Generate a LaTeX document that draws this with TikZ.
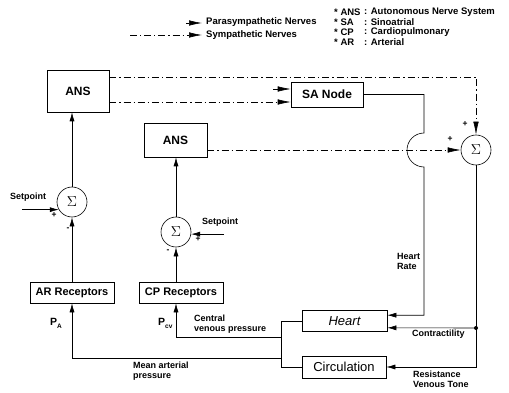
\documentclass[tikz,border=0pt]{standalone}
\usepackage{fontspec}
\setmainfont{Liberation Sans}
\usetikzlibrary{arrows.meta,calc}
\begin{document}
\begin{tikzpicture}[x=1pt,y=-1pt,
  box/.style={draw, line width=0.6pt, inner sep=0pt, font=\bfseries\fontsize{12}{13}\selectfont},
  sumc/.style={draw, circle, minimum size=30pt, inner sep=0pt, line width=0.6pt, font=\fontsize{14}{15}\selectfont},
  lbl/.style={font=\bfseries\fontsize{9}{10}\selectfont, align=left, inner sep=0pt},
  sgn/.style={font=\bfseries\fontsize{8.5}{9}\selectfont, inner sep=0pt},
  leg/.style={font=\bfseries\fontsize{9.5}{10}\selectfont, inner sep=0pt, anchor=west},
  ln/.style={line width=0.6pt},
  arr/.style={ln, -{Latex[length=9pt,width=5pt]}},
  sym/.style={line width=0.6pt, dash pattern=on 7pt off 3pt on 1.2pt off 3pt},
  symarr/.style={sym, -{Latex[length=13pt,width=5.5pt]}},
  para/.style={line width=0.6pt, -{Latex[length=13pt,width=5.5pt]}},
]
\useasboundingbox (0,0) rectangle (509,393);

% legend
\coordinate (lp0) at (186,23);
\coordinate (lp1) at (202,23);
\coordinate (ls0) at (130,35);
\coordinate (ls1) at (202,35);
\draw[para] (lp0) -- (lp1);
\draw[symarr] (ls0) -- (ls1);
\node[leg] (tpara) at (206,22) {Parasympathetic Nerves};
\node[leg] (tsym) at (206,35) {Sympathetic Nerves};
\node[leg] (a1) at (334,12) {* ANS};
\node[leg] (a2) at (334,22) {* SA};
\node[leg] (a3) at (334,32) {* CP};
\node[leg] (a4) at (334,42) {* AR};
\node[leg] (b1) at (364,12) {: Autonomous Nerve System};
\node[leg] (b2) at (364,22) {: Sinoatrial};
\node[leg] (b3) at (364,32) {: Cardiopulmonary};
\node[leg] (b4) at (364,42) {: Arterial};

% blocks
\node[box, minimum width=62pt, minimum height=42pt] (ANS1) at (78,91) {ANS};
\node[box, minimum width=63pt, minimum height=34pt] (ANS2) at (175.5,140) {ANS};
\node[box, minimum width=72pt, minimum height=25pt] (SA) at (327,94.5) {SA Node};
\node[box, minimum width=84pt, minimum height=21pt, font=\bfseries\fontsize{11}{12}\selectfont] (AR) at (72,292.5) {AR Receptors};
\node[box, minimum width=84pt, minimum height=21pt, font=\bfseries\fontsize{11}{12}\selectfont] (CP) at (181,292.5) {CP Receptors};
\node[box, minimum width=85pt, minimum height=21pt, font=\itshape\fontsize{13}{14}\selectfont] (Heart) at (344.5,321) {Heart};
\node[box, minimum width=84pt, minimum height=22pt, font=\fontsize{13}{14}\selectfont] (Circ) at (344,367) {Circulation};

\node[sumc] (S1) at (72,202) {$\Sigma$};
\node[sumc] (S2) at (176,232) {$\Sigma$};
\node[sumc] (S3) at (476,150) {$\Sigma$};

% helper coordinates
\coordinate (sp1) at (22,0);
\coordinate (sp2) at (224,0);
\coordinate (c1) at (476,77);
\coordinate (c2) at (0,102);
\coordinate (p1) at (273,89);
\coordinate (jt) at (424,133);
\coordinate (jl) at (281,0);
\coordinate (cvp) at (281,337);
\coordinate (map) at (281,358);
\coordinate (dot) at (476,328);

% left loop
\draw[arr] (AR.north) -- (S1.south);
\draw[arr] (S1.north) -- (S1.north |- ANS1.south);
\draw[arr] (S1.210 -| sp1) -- (S1.210);

% CP loop
\draw[arr] (CP.north -| S2) -- (S2.south);
\draw[arr] (S2.north) -- (S2.north |- ANS2.south);
\draw[arr] (S2.-8 -| sp2) -- (S2.-8);

% sympathetic / parasympathetic
\draw[symarr] (ANS1.east |- c1) -- (c1) -- (S3.north);
\draw[symarr] (ANS1.east |- c2) -- (SA.west |- c2);
\draw[para] (p1) -- (SA.west |- p1);
\draw[symarr] (ANS2.east |- S3) -- (S3.west);

% heart rate with jump
\draw[arr] (SA.east) -| (jt) arc[start angle=90, end angle=270, radius=17pt] |- ($(Heart.north east)+(0,5)$);

% contractility, resistance
\draw[arr] (S3.south) |- (Circ.east);
\fill (dot) circle (2pt);
\draw[arr] (dot) -- ($(Heart.south east)+(0,-4)$);

% outputs
\draw[ln] (Heart.west) -- (Heart.west -| jl) -- (Circ.west -| jl) -- (Circ.west);
\draw[arr] (cvp) -| (CP.south -| S2);
\draw[arr] (map) -| (AR.south);

% labels
\node[lbl, anchor=west] (lsp1) at (10,197) {Setpoint};
\node[lbl, anchor=west] (lsp2) at (202,222) {Setpoint};
\node[sgn] (pl1) at (54,215) {+};
\node[sgn] (mi1) at (68,229) {-};
\node[sgn] (pl2) at (198,239) {+};
\node[sgn] (mi2) at (168,251) {-};
\node[sgn] (pl3) at (465,124) {+};
\node[sgn] (pl4) at (450,139) {+};
\node[lbl, anchor=north west] (lhr) at (397,253) {Heart\\Rate};
\node[lbl, anchor=west] (lct) at (412,334) {Contractility};
\node[lbl, anchor=north west] (lrv) at (413,371) {Resistance\\Venous Tone};
\node[lbl, anchor=north west] (lcv) at (194,315) {Central\\venous pressure};
\node[lbl, anchor=north west] (lma) at (133,362) {Mean arterial\\pressure};
\node[lbl, anchor=west, font=\bfseries\fontsize{10.5}{11}\selectfont] (lpa) at (50,323) {P\raisebox{-3pt}{\fontsize{6.5}{7}\selectfont A}};
\node[lbl, anchor=west, font=\bfseries\fontsize{10.5}{11}\selectfont] (lpc) at (158,323) {P\raisebox{-3pt}{\fontsize{6.5}{7}\selectfont cv}};
\end{tikzpicture}
\end{document}
